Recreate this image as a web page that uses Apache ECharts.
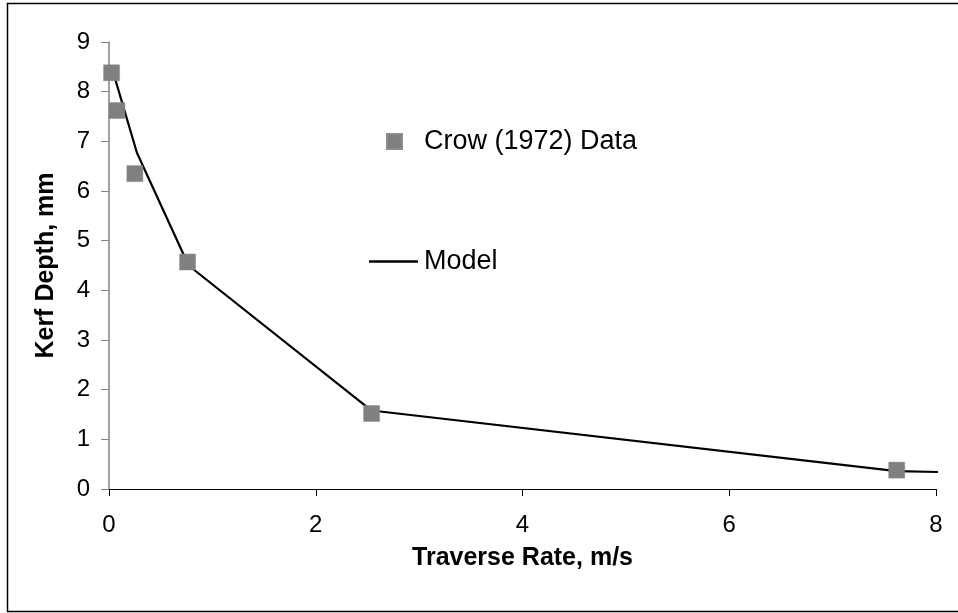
<!DOCTYPE html>
<html>
<head>
<meta charset="utf-8">
<script src="https://cdn.jsdelivr.net/npm/echarts@6/dist/echarts.min.js"></script>
<style>
  html, body { margin: 0; padding: 0; background: #fff; }
  #chart { width: 958px; height: 613px; }
</style>
</head>
<body>
<div id="chart"></div>
<script>
// Crow (1972) measured points, m/s vs mm
const crowRate = [0.025, 0.076, 0.25, 0.76, 2.54, 7.62];
const crowDepth = [8.38, 7.62, 6.35, 4.57, 1.52, 0.38];

// model curve
const modelRate = [0.025, 0.27, 0.77, 2.54, 7.62, 8.07];
const modelDepth = [8.5, 6.77, 4.5, 1.58, 0.36, 0.34];

const xTicks = [0, 2, 4, 6, 8];
const yTicks = [0, 1, 2, 3, 4, 5, 6, 7, 8, 9];

const font = '"Liberation Sans", Arial, sans-serif';

const chart = echarts.init(document.getElementById('chart'));

const option = {
    animation: false,
    backgroundColor: '#fff',
    textStyle: { fontFamily: font, color: '#000' },
    grid: {
        left: 109,
        right: 22,
        top: 42,
        bottom: 124
    },
    legend: [
        {
            data: ['Crow (1972) Data'],
            left: 386,
            top: 128,
            padding: 0,
            icon: 'rect',
            itemWidth: 15,
            itemHeight: 15,
            textStyle: { fontSize: 27, fontFamily: font, color: '#000', padding: [0, 0, 0, 17] }
        },
        {
            data: [{ name: 'Model', icon: 'rect', itemStyle: { color: '#000' } }],
            left: 369,
            top: 248,
            padding: 0,
            itemWidth: 49,
            itemHeight: 2.5,
            textStyle: { fontSize: 27, fontFamily: font, color: '#000', padding: [0, 0, 0, 1] }
        }
    ],
    xAxis: {
        type: 'value',
        min: xTicks[0],
        max: xTicks[xTicks.length - 1],
        interval: 2,
        name: 'Traverse Rate, m/s',
        nameLocation: 'middle',
        nameGap: 57,
        nameTextStyle: { fontSize: 25, fontWeight: 'bold', fontFamily: font, color: '#000' },
        axisLine: { show: true, lineStyle: { color: '#000', width: 1 } },
        axisTick: { show: true, length: 7, lineStyle: { color: '#000' } },
        axisLabel: { fontSize: 24, fontFamily: font, color: '#000', margin: 24 },
        splitLine: { show: false }
    },
    yAxis: {
        type: 'value',
        min: yTicks[0],
        max: yTicks[yTicks.length - 1],
        interval: 1,
        name: 'Kerf Depth, mm',
        nameLocation: 'middle',
        nameGap: 50,
        nameTextStyle: { fontSize: 25, fontWeight: 'bold', fontFamily: font, color: '#000' },
        axisLine: { show: true, lineStyle: { color: '#808080', width: 1.5 } },
        axisTick: { show: true, length: 8, lineStyle: { color: '#808080' } },
        axisLabel: { fontSize: 24, fontFamily: font, color: '#000', margin: 19 },
        splitLine: { show: false }
    },
    series: [
        {
            name: 'Model',
            type: 'line',
            symbol: 'none',
            clip: false,
            color: '#000',
            lineStyle: { color: '#000', width: 2.2 },
            data: modelRate.map((x, i) => [x, modelDepth[i]]),
            z: 2
        },
        {
            name: 'Crow (1972) Data',
            type: 'scatter',
            symbol: 'rect',
            symbolSize: 16,
            clip: false,
            itemStyle: { color: '#808080', borderColor: '#8c8c8c', borderWidth: 0.5, opacity: 1 },
            data: crowRate.map((x, i) => [x, crowDepth[i]]),
            z: 3
        }
    ],
    graphic: [
        {
            type: 'rect',
            silent: true,
            shape: { x: 7.5, y: 3.5, width: 960, height: 608 },
            style: { fill: 'none', stroke: '#000', lineWidth: 1.5 }
        }
    ]
};

chart.setOption(option);
</script>
</body>
</html>
